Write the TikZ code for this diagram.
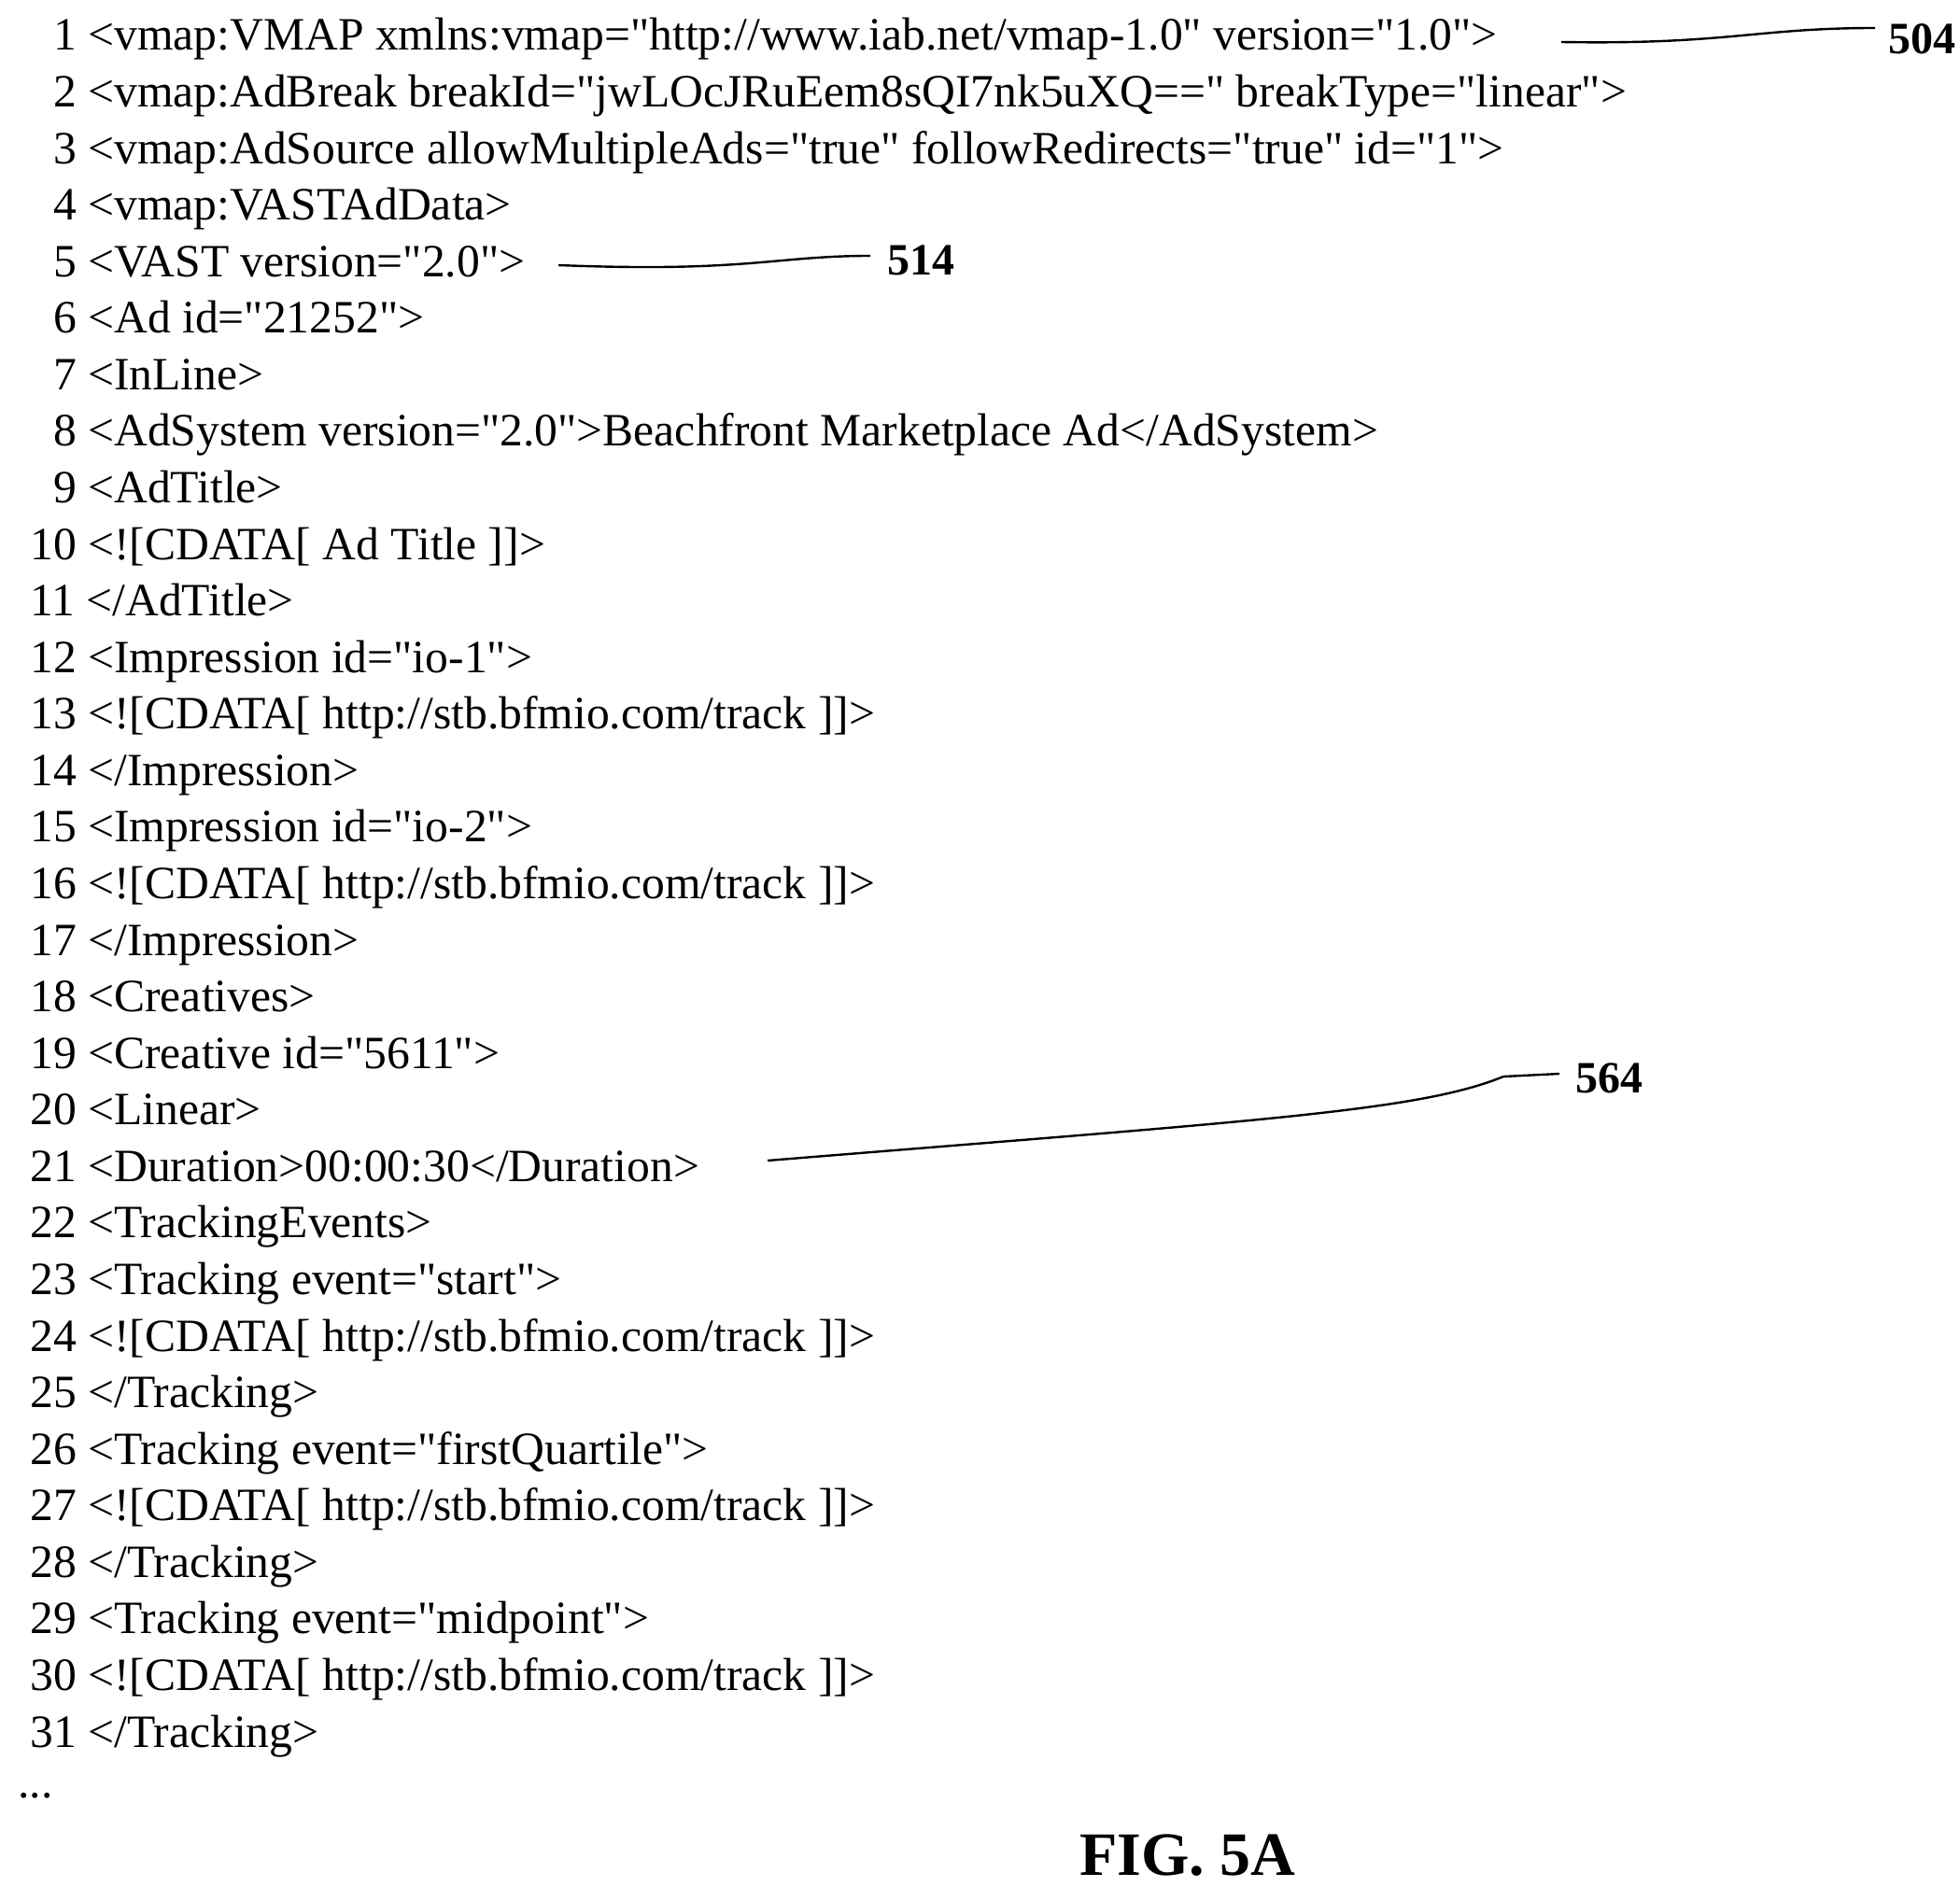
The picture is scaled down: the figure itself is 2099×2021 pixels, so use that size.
\documentclass[tikz,border=0pt]{standalone}
\usepackage{fontspec}
\setmainfont{Liberation Serif}
\newfontfamily\codefont{Liberation Serif}
\begin{document}
\begin{tikzpicture}[x=0.5pt,y=-0.5pt,
  code/.style={anchor=base west,inner sep=0pt,font=\codefont\fontsize{24.8}{24.8}\selectfont},
  lab/.style={anchor=base west,inner sep=0pt,font=\fontsize{24}{24}\selectfont\bfseries},
  lead/.style={line width=1.2pt}]
\useasboundingbox (0,0) rectangle (2099,2021);
\newcommand\cl[3]{\node[code] (l#1) at (32,{54+60.57*(#1-1)}) {#2 #3};}
\cl{1}{\phantom{0}1}{<vmap:VMAP xmlns:vmap="http://www.iab.net/vmap-1.0" version="1.0">}
\cl{2}{\phantom{0}2}{<vmap:AdBreak breakId="jwLOcJRuEem8sQI7nk5uXQ==" breakType="linear">}
\cl{3}{\phantom{0}3}{<vmap:AdSource allowMultipleAds="true" followRedirects="true" id="1">}
\cl{4}{\phantom{0}4}{<vmap:VASTAdData>}
\cl{5}{\phantom{0}5}{<VAST version="2.0">}
\cl{6}{\phantom{0}6}{<Ad id="21252">}
\cl{7}{\phantom{0}7}{<InLine>}
\cl{8}{\phantom{0}8}{<AdSystem version="2.0">Beachfront Marketplace Ad</AdSystem>}
\cl{9}{\phantom{0}9}{<AdTitle>}
\cl{10}{10}{<![CDATA[ Ad Title ]]>}
\cl{11}{11}{</AdTitle>}
\cl{12}{12}{<Impression id="io-1">}
\cl{13}{13}{<![CDATA[ http://stb.bfmio.com/track ]]>}
\cl{14}{14}{</Impression>}
\cl{15}{15}{<Impression id="io-2">}
\cl{16}{16}{<![CDATA[ http://stb.bfmio.com/track ]]>}
\cl{17}{17}{</Impression>}
\cl{18}{18}{<Creatives>}
\cl{19}{19}{<Creative id="5611">}
\cl{20}{20}{<Linear>}
\cl{21}{21}{<Duration>00:00:30</Duration>}
\cl{22}{22}{<TrackingEvents>}
\cl{23}{23}{<Tracking event="start">}
\cl{24}{24}{<![CDATA[ http://stb.bfmio.com/track ]]>}
\cl{25}{25}{</Tracking>}
\cl{26}{26}{<Tracking event="firstQuartile">}
\cl{27}{27}{<![CDATA[ http://stb.bfmio.com/track ]]>}
\cl{28}{28}{</Tracking>}
\cl{29}{29}{<Tracking event="midpoint">}
\cl{30}{30}{<![CDATA[ http://stb.bfmio.com/track ]]>}
\cl{31}{31}{</Tracking>}
\node[code] (dots) at (19,1925) {...};
\node[anchor=base,inner sep=0pt,font=\fontsize{33}{33}\selectfont\bfseries] (fig) at (1272,2008) {FIG. 5A};
\node[lab] (n504) at (2022,58) {504};
\node[lab] (n514) at (950,295) {514};
\node[lab] (n564) at (1687,1170) {564};
\coordinate (e504) at (2008,30);
\coordinate (e514) at (932,274);
\coordinate (e564) at (1670,1150);
\coordinate (a504) at (1672,45);
\coordinate (a514) at (598,284);
\coordinate (a564) at (822,1243);
\draw[lead] (a504) .. controls (1850,48) and (1880,30) .. (e504);
\draw[lead] (a514) .. controls (800,292) and (830,274) .. (e514);
\draw[lead] (a564) .. controls (1350,1200) and (1520,1190) .. (1610,1153) -- (e564);
\end{tikzpicture}
\end{document}
